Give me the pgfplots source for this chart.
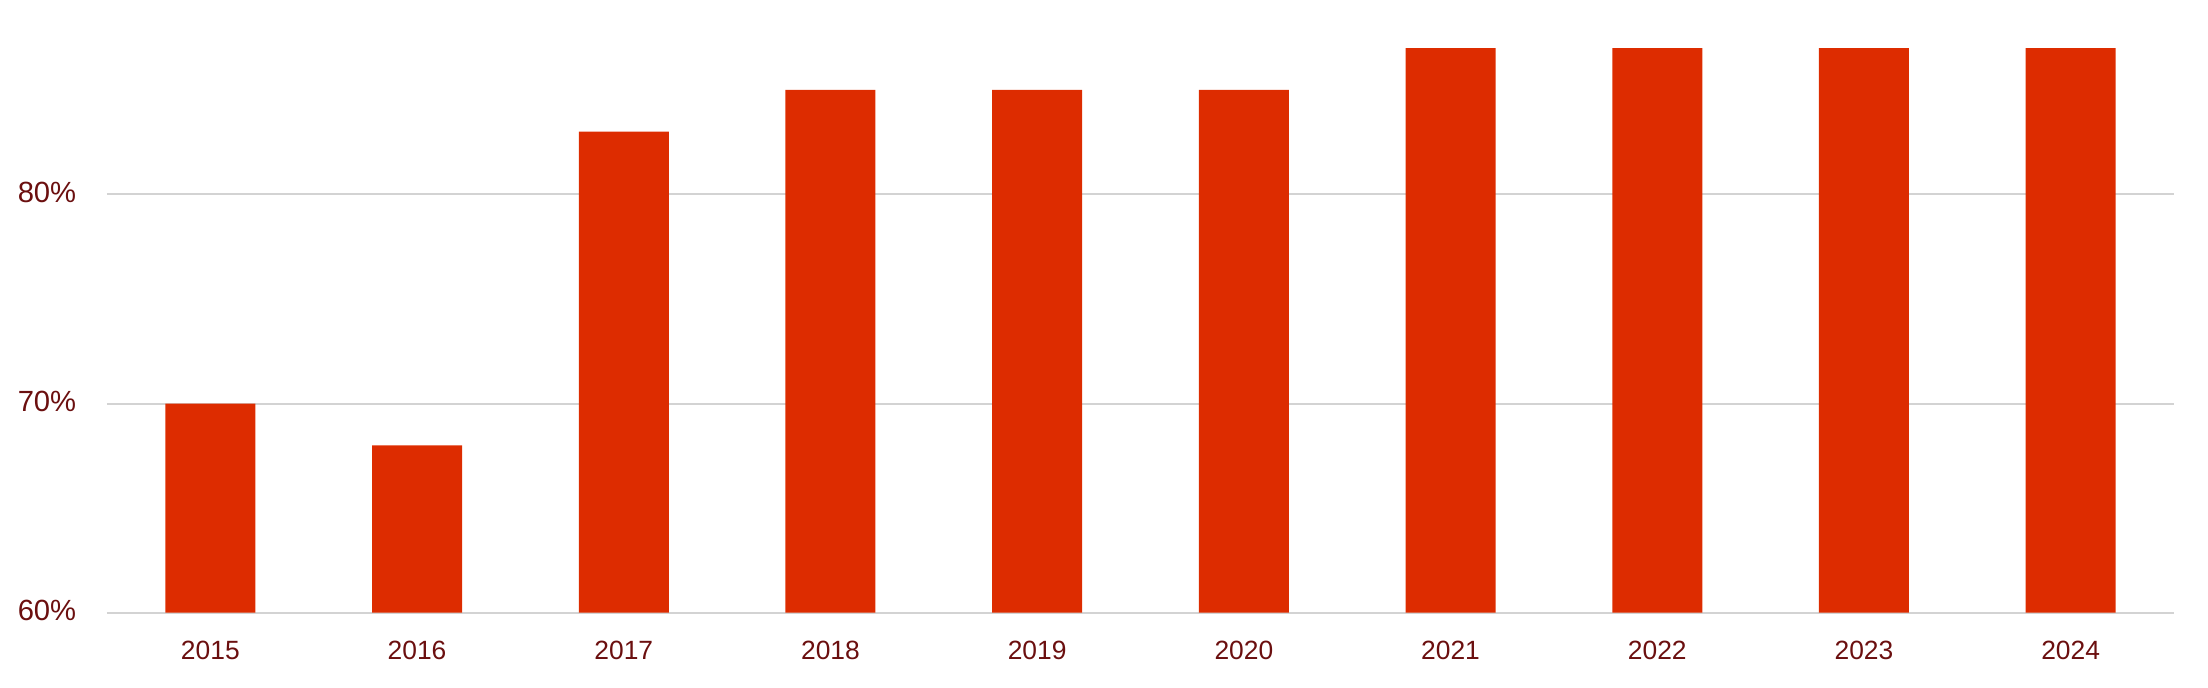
\documentclass[border=0pt]{standalone}
\usepackage{pgfplots}
\pgfplotsset{compat=1.18}
\usepackage{fontspec}
\setmainfont{Liberation Sans}
\definecolor{barred}{HTML}{DD2C00}
\definecolor{txtred}{HTML}{6B0F0F}
\definecolor{gridgray}{HTML}{D3D3D3}
\begin{document}
\begin{tikzpicture}
\path[use as bounding box] (0,0) rectangle (552pt,171.75pt);
\begin{axis}[
  at={(26.75pt,18.6pt)}, anchor=south west,
  scale only axis,
  width=516.75pt, height=153.15pt,
  ymin=60, ymax=89.3,
  xmin=-0.5, xmax=9.5,
  axis line style={draw=none},
  ybar, bar width=22.5pt,
  ytick={60,70,80},
  yticklabel={\pgfmathprintnumber{\tick}\%},
  xtick={0,1,2,3,4,5,6,7,8,9},
  xticklabels={2015,2016,2017,2018,2019,2020,2021,2022,2023,2024},
  major tick length=0pt,
  ymajorgrids,
  grid style={gridgray, line width=0.5pt},
  /pgf/number format/assume math mode=true,
  yticklabel style={anchor=east, inner sep=0pt, xshift=-7.5pt, yshift=0.5pt, font=\fontsize{7.3pt}{8pt}\selectfont, text=txtred},
  xticklabel style={anchor=base, inner sep=0pt, yshift=-11.6pt, font=\fontsize{6.6pt}{8pt}\selectfont, text=txtred},
  clip=false,
]
\addplot[fill=barred, draw=none, bar shift=0pt] coordinates {
(0,70) (1,68) (2,83) (3,85) (4,85) (5,85) (6,87) (7,87) (8,87) (9,87)
};
\end{axis}
\end{tikzpicture}
\end{document}
